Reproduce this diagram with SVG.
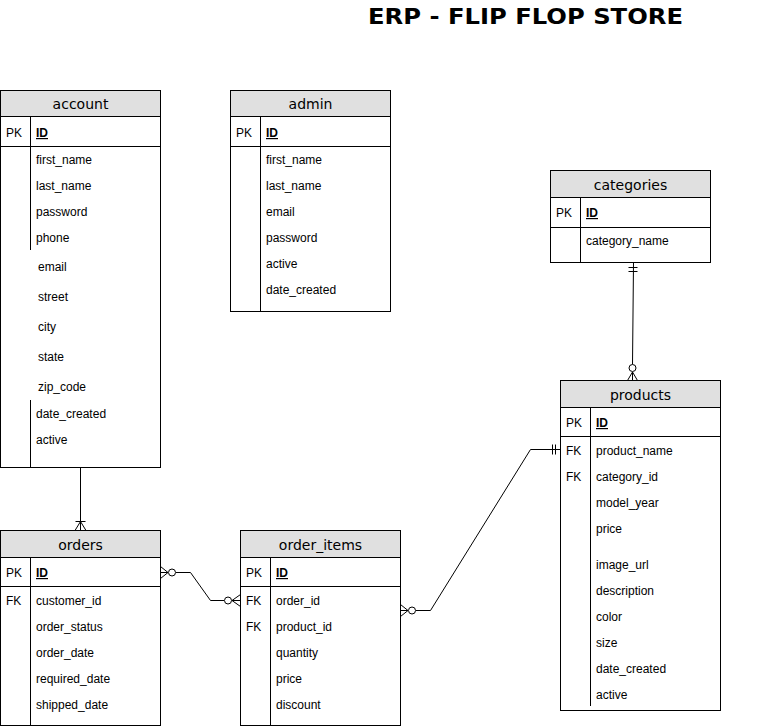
<svg xmlns="http://www.w3.org/2000/svg" width="761" height="727" viewBox="0 0 761 727">
<style>
.box{fill:#fff;stroke:#000;stroke-width:1}
.hdr{fill:#e0e0e0;stroke:#000;stroke-width:1}
.ln{stroke:#000;stroke-width:1;fill:none}
.ht{font-family:"DejaVu Sans",Verdana,sans-serif;font-size:14px;fill:#000;text-anchor:middle}
.t{font-family:"Liberation Sans",Arial,sans-serif;font-size:12px;fill:#000}
.id{font-family:"Liberation Sans",Arial,sans-serif;font-size:12px;font-weight:bold;text-decoration:underline;fill:#000}
.title{font-family:"DejaVu Sans",Verdana,sans-serif;font-size:21px;font-weight:bold;fill:#000}
.c{stroke:#000;stroke-width:1;fill:none}
.o{stroke:#000;stroke-width:1;fill:#fff}
</style>
<rect width="761" height="727" fill="#fff"/>
<text class="title" x="368" y="24" textLength="315" lengthAdjust="spacingAndGlyphs">ERP - FLIP FLOP STORE</text>

<g id="account">
<rect class="box" x="0.5" y="90.5" width="160" height="377"/>
<rect class="hdr" x="0.5" y="90.5" width="160" height="26"/>
<text class="ht" x="80.5" y="109">account</text>
<path class="ln" d="M0.5 146.5H160.5M30.5 116.5V250M30.5 400V467.5"/>
<text class="t" x="6" y="137">PK</text>
<text class="id" x="36" y="137">ID</text>
<text class="t" x="36" y="164">first_name</text>
<text class="t" x="36" y="190">last_name</text>
<text class="t" x="36" y="216">password</text>
<text class="t" x="36" y="242">phone</text>
<text class="t" x="38" y="271">email</text>
<text class="t" x="38" y="301">street</text>
<text class="t" x="38" y="331">city</text>
<text class="t" x="38" y="361">state</text>
<text class="t" x="38" y="391">zip_code</text>
<text class="t" x="36" y="418">date_created</text>
<text class="t" x="36" y="444">active</text>
</g>

<g id="admin">
<rect class="box" x="230.5" y="90.5" width="160" height="221"/>
<rect class="hdr" x="230.5" y="90.5" width="160" height="26"/>
<text class="ht" x="310.5" y="109">admin</text>
<path class="ln" d="M230.5 146.5H390.5M260.5 116.5V311.5"/>
<text class="t" x="236" y="137">PK</text>
<text class="id" x="266" y="137">ID</text>
<text class="t" x="266" y="164">first_name</text>
<text class="t" x="266" y="190">last_name</text>
<text class="t" x="266" y="216">email</text>
<text class="t" x="266" y="242">password</text>
<text class="t" x="266" y="268">active</text>
<text class="t" x="266" y="294">date_created</text>
</g>

<g id="categories">
<rect class="box" x="550.5" y="170.5" width="160" height="92"/>
<rect class="hdr" x="550.5" y="170.5" width="160" height="27"/>
<text class="ht" x="630.5" y="190">categories</text>
<path class="ln" d="M550.5 227.5H710.5M580.5 197.5V262.5"/>
<text class="t" x="556" y="217">PK</text>
<text class="id" x="586" y="217">ID</text>
<text class="t" x="586" y="245">category_name</text>
</g>

<g id="products">
<rect class="box" x="560.5" y="380.5" width="160" height="330"/>
<rect class="hdr" x="560.5" y="380.5" width="160" height="27"/>
<text class="ht" x="640.5" y="400">products</text>
<path class="ln" d="M560.5 436.5H720.5M590.5 407.5V706"/>
<text class="t" x="566" y="427">PK</text>
<text class="id" x="596" y="427">ID</text>
<text class="t" x="566" y="455">FK</text>
<text class="t" x="566" y="481">FK</text>
<text class="t" x="596" y="455">product_name</text>
<text class="t" x="596" y="481">category_id</text>
<text class="t" x="596" y="507">model_year</text>
<text class="t" x="596" y="533">price</text>
<text class="t" x="596" y="569">image_url</text>
<text class="t" x="596" y="595">description</text>
<text class="t" x="596" y="621">color</text>
<text class="t" x="596" y="647">size</text>
<text class="t" x="596" y="673">date_created</text>
<text class="t" x="596" y="699">active</text>
</g>

<g id="orders">
<rect class="box" x="0.5" y="530.5" width="160" height="195"/>
<rect class="hdr" x="0.5" y="530.5" width="160" height="27"/>
<text class="ht" x="80.5" y="550">orders</text>
<path class="ln" d="M0.5 586.5H160.5M30.5 557.5V725.5"/>
<text class="t" x="6" y="577">PK</text>
<text class="id" x="36" y="577">ID</text>
<text class="t" x="6" y="605">FK</text>
<text class="t" x="36" y="605">customer_id</text>
<text class="t" x="36" y="631">order_status</text>
<text class="t" x="36" y="657">order_date</text>
<text class="t" x="36" y="683">required_date</text>
<text class="t" x="36" y="709">shipped_date</text>
</g>

<g id="order_items">
<rect class="box" x="240.5" y="530.5" width="160" height="195"/>
<rect class="hdr" x="240.5" y="530.5" width="160" height="27"/>
<text class="ht" x="320.5" y="550">order_items</text>
<path class="ln" d="M240.5 586.5H400.5M270.5 557.5V725.5"/>
<text class="t" x="246" y="577">PK</text>
<text class="id" x="276" y="577">ID</text>
<text class="t" x="246" y="605">FK</text>
<text class="t" x="246" y="631">FK</text>
<text class="t" x="276" y="605">order_id</text>
<text class="t" x="276" y="631">product_id</text>
<text class="t" x="276" y="657">quantity</text>
<text class="t" x="276" y="683">price</text>
<text class="t" x="276" y="709">discount</text>
</g>

<g id="connectors">
<path class="c" d="M80.5 468V530"/>
<path class="c" d="M75.5 521.5H85.5M80.5 521.5L75 530.5M80.5 521.5L86 530.5"/>
<path class="c" d="M176 572.5H190.5L210.5 600.5H224"/>
<path class="c" d="M168 572.5L160.5 566.5M168 572.5H160.5M168 572.5L160.5 578.5"/>
<circle class="o" cx="172" cy="572.5" r="3.5"/>
<path class="c" d="M232 600.5L240.5 594.5M232 600.5H240.5M232 600.5L240.5 606.5"/>
<circle class="o" cx="228" cy="600.5" r="3.5"/>
<path class="c" d="M416 610.5H430.5L530.5 449.5H560.5"/>
<path class="c" d="M408 610.5L400.5 604.5M408 610.5H400.5M408 610.5L400.5 616.5"/>
<circle class="o" cx="412" cy="610.5" r="3.5"/>
<path class="c" d="M552.5 444.5V454.5M555.5 444.5V454.5"/>
<path class="c" d="M633.5 262.5L632.5 364.5"/>
<path class="c" d="M628.5 267.5H637.5M628.5 271.5H637.5"/>
<circle class="o" cx="632.5" cy="368" r="3.5"/>
<path class="c" d="M632.5 372L627.5 380.5M632.5 372V380.5M632.5 372L637.5 380.5"/>
</g>
</svg>
